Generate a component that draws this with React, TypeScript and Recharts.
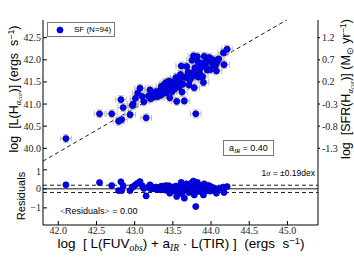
import React from 'react';
import { ScatterChart, Scatter, XAxis, YAxis, ErrorBar, ReferenceLine } from 'recharts';

// ---- data ----
const X_LOG = [
  42.10, 42.54, 42.70, 42.79, 42.82, 42.83, 42.85, 42.94, 42.97, 42.98,
  43.01, 43.04, 43.07, 43.10, 43.12, 43.15, 43.18, 43.20, 43.21, 43.22,
  43.25, 43.26, 43.28, 43.30, 43.31, 43.33, 43.34, 43.35, 43.36, 43.38,
  43.39, 43.40, 43.41, 43.42, 43.43, 43.44, 43.45, 43.46, 43.47, 43.48,
  43.49, 43.50, 43.52, 43.53, 43.54, 43.55, 43.56, 43.58, 43.59, 43.60,
  43.61, 43.62, 43.63, 43.65, 43.66, 43.68, 43.69, 43.70, 43.71, 43.72,
  43.74, 43.75, 43.77, 43.77, 43.78, 43.79, 43.80, 43.81, 43.82, 43.83,
  43.84, 43.85, 43.86, 43.88, 43.89, 43.90, 43.91, 43.93, 43.94, 43.95,
  43.96, 43.98, 43.99, 44.00, 44.02, 44.03, 44.05, 44.06, 44.07, 44.08,
  44.10, 44.16, 44.17, 44.21,
];
const Y_LOG = [
  40.22, 40.78, 40.78, 40.61, 41.10, 40.65, 40.92, 40.76, 40.97, 41.00,
  41.13, 41.25, 41.36, 41.17, 41.05, 40.69, 41.18, 41.32, 41.12, 41.25,
  41.16, 41.22, 41.28, 41.17, 41.22, 41.30, 41.20, 41.40, 41.23, 41.41,
  41.33, 41.47, 41.25, 41.49, 41.32, 41.42, 41.52, 41.14, 41.33, 41.40,
  41.28, 41.50, 41.34, 41.47, 41.60, 41.06, 41.45, 41.38, 41.55, 41.67,
  41.86, 41.27, 41.45, 41.07, 41.60, 41.85, 41.64, 41.72, 41.43, 41.54,
  41.60, 41.99, 41.72, 42.09, 41.37, 41.82, 40.78, 41.63, 42.07, 41.95,
  41.61, 41.70, 41.81, 41.92, 41.62, 41.49, 42.08, 41.85, 41.97, 41.77,
  42.04, 42.05, 41.78, 41.95, 42.00, 41.89, 41.98, 41.88, 41.75, 41.95,
  42.02, 42.16, 41.89, 42.24,
];
const RESID = [
  0.21, 0.33, 0.17, -0.09, 0.37, -0.09, 0.16, -0.09, 0.09, 0.11,
  0.21, 0.30, 0.38, 0.16, 0.02, -0.37, 0.09, 0.21, 0.00, 0.12,
  0.00, 0.05, 0.09, -0.04, 0.00, 0.06, -0.05, 0.14, -0.04, 0.12,
  0.03, 0.16, -0.07, 0.16, -0.02, 0.07, 0.16, -0.23, -0.05, 0.01,
  -0.12, 0.09, -0.09, 0.03, 0.15, -0.40, -0.02, -0.11, 0.05, 0.16,
  0.34, -0.26, -0.09, -0.49, 0.03, 0.26, 0.04, 0.11, -0.19, -0.09,
  -0.05, 0.33, 0.04, 0.41, -0.32, 0.12, -0.93, -0.09, 0.34, 0.21,
  -0.14, -0.06, 0.04, 0.13, -0.18, -0.32, 0.26, 0.01, 0.12, -0.09,
  0.17, 0.16, -0.12, 0.04, 0.07, -0.05, 0.02, -0.09, -0.23, -0.04,
  0.01, 0.09, -0.19, 0.12,
];
const X_ERR = 0.07;
const Y_ERR = 0.09;
const X_TICKS = [42.0, 42.5, 43.0, 43.5, 44.0, 44.5, 45.0];
const Y_TICKS = [40.0, 40.5, 41.0, 41.5, 42.0, 42.5];
const SFR_TICKS = [1.2, 0.7, 0.2, -0.3, -0.8, -1.3];
const RES_TICKS = [-1, 0, 1];
const FIT_X = [41.8, 44.99];
const FIT_Y = [39.71, 42.9];
const SIGMA = 0.19;
const A_IR = '0.40';
const N_GAL = 94;
const MEAN_RES = '0.00';

const X_DOMAIN = [41.8, 45.4];
const Y_DOMAIN = [39.6, 42.9];
const SFR_DOMAIN = [-1.7, 1.6];
const RES_DOMAIN = [-1.9, 1.2];

const mainData = X_LOG.map((x, i) => ({ x, y: Y_LOG[i], ex: X_ERR, ey: Y_ERR }));
const resData = X_LOG.map((x, i) => ({ x, r: RESID[i] }));

const sans = '"Liberation Sans", Arial, sans-serif';
const serif = '"Liberation Serif", "DejaVu Serif", serif';
const tickStyle = { fontFamily: serif, fontSize: 10, fill: '#222' };

const Dot = (p: any) => (
  <circle cx={p.cx} cy={p.cy} r={3.1} fill="#0000ff" stroke="#00007a" strokeWidth={0.6} />
);

const Sub = ({ children, it }: any) => (
  <span style={{ fontSize: '0.7em', position: 'relative', top: '0.3em', fontFamily: it ? serif : undefined, fontStyle: it ? 'italic' : undefined }}>{children}</span>
);
const Sup = ({ children }: any) => (
  <span style={{ fontSize: '0.7em', position: 'relative', top: '-0.45em' }}>{children}</span>
);

const fmt1 = (v: number) => v.toFixed(1);
const fmtRes = (v: number) => (v < 0 ? '\u2212' + Math.abs(v) : String(v));

export default function App() {
  return (
    <div style={{ position: 'absolute', left: 0, top: 0, width: 354, height: 261, background: '#fff', overflow: 'hidden' }}>
      <div style={{ position: 'absolute', left: 0, top: 0 }}>
        <ScatterChart width={354} height={166} margin={{ top: 20, right: 0, bottom: 0, left: 0 }}>
          <XAxis xAxisId="b" dataKey="x" type="number" domain={X_DOMAIN} ticks={X_TICKS} allowDataOverflow height={0} tick={false} tickSize={-4} stroke="#000" />
          <XAxis xAxisId="t" orientation="top" type="number" domain={X_DOMAIN} ticks={X_TICKS} allowDataOverflow height={0} tick={false} tickSize={-4} stroke="#000" />
          <YAxis yAxisId="l" dataKey="y" type="number" domain={Y_DOMAIN} ticks={Y_TICKS} allowDataOverflow width={43} tickSize={-4} tickMargin={6} tick={tickStyle} tickFormatter={fmt1} stroke="#000" />
          <YAxis yAxisId="r" orientation="right" type="number" domain={SFR_DOMAIN} ticks={SFR_TICKS} allowDataOverflow width={36} tickSize={2} tickMargin={2} tick={tickStyle} tickFormatter={fmt1} stroke="#000" />
          <ReferenceLine xAxisId="b" yAxisId="l" segment={[{ x: FIT_X[0], y: FIT_Y[0] }, { x: FIT_X[1], y: FIT_Y[1] }]} stroke="#000" strokeDasharray="4 3" strokeWidth={0.9} />
          <Scatter xAxisId="b" yAxisId="l" data={mainData} dataKey="y" shape={Dot} isAnimationActive={false}>
            <ErrorBar dataKey="ex" direction="x" width={3} stroke="#b0b0b0" strokeWidth={0.8} isAnimationActive={false} />
            <ErrorBar dataKey="ey" direction="y" width={3} stroke="#b0b0b0" strokeWidth={0.8} isAnimationActive={false} />
          </Scatter>
        </ScatterChart>
      </div>
      <div style={{ position: 'absolute', left: 0, top: 166 }}>
        <ScatterChart width={354} height={95} margin={{ top: 0, right: 0, bottom: 0, left: 0 }}>
          <XAxis xAxisId="b" dataKey="x" type="number" domain={X_DOMAIN} ticks={X_TICKS} allowDataOverflow height={36} tickSize={-4} tickMargin={6} tick={tickStyle} tickFormatter={fmt1} stroke="#000" />
          <XAxis xAxisId="t" orientation="top" type="number" domain={X_DOMAIN} ticks={X_TICKS} allowDataOverflow height={0} tick={false} tickSize={-4} stroke="#000" />
          <YAxis yAxisId="l" dataKey="r" type="number" domain={RES_DOMAIN} ticks={RES_TICKS} allowDataOverflow width={43} tickSize={-4} tickMargin={6} tick={tickStyle} tickFormatter={fmtRes} stroke="#000" />
          <YAxis yAxisId="r" orientation="right" type="number" domain={RES_DOMAIN} ticks={RES_TICKS} allowDataOverflow width={36} tick={false} tickSize={-4} stroke="#000" />
          <ReferenceLine xAxisId="b" yAxisId="l" y={0} stroke="#000" strokeWidth={0.9} />
          <ReferenceLine xAxisId="b" yAxisId="l" y={SIGMA} stroke="#000" strokeDasharray="4 3" strokeWidth={0.9} />
          <ReferenceLine xAxisId="b" yAxisId="l" y={-SIGMA} stroke="#000" strokeDasharray="4 3" strokeWidth={0.9} />
          <Scatter xAxisId="b" yAxisId="l" data={resData} dataKey="r" shape={Dot} isAnimationActive={false} />
        </ScatterChart>
      </div>

      {/* legend */}
      <div style={{ position: 'absolute', left: 47, top: 22, width: 68, height: 15, boxSizing: 'border-box', border: '1px solid #777', background: '#fff' }}>
        <svg width={10} height={10} style={{ position: 'absolute', left: 7, top: 2 }}>
          <circle cx={5} cy={5} r={3.1} fill="#0000ff" stroke="#00007a" strokeWidth={0.6} />
        </svg>
        <div style={{ position: 'absolute', left: 26, top: 1, fontFamily: sans, fontSize: 8, lineHeight: '11px', whiteSpace: 'pre', color: '#000' }}>{`SF (N=${N_GAL})`}</div>
      </div>

      {/* a_IR box */}
      <div style={{ position: 'absolute', left: 223, top: 140, width: 51, height: 16, boxSizing: 'border-box', border: '1px solid #777', background: '#fff', fontFamily: sans, fontSize: 9, lineHeight: '14px', textAlign: 'center', whiteSpace: 'pre' }}>
        a<Sub it>IR</Sub> = {A_IR}
      </div>

      {/* residual annotations */}
      <div style={{ position: 'absolute', left: 233, top: 168, width: 82, textAlign: 'right', fontFamily: sans, fontSize: 8.5, lineHeight: '11px', whiteSpace: 'pre' }}>
        1<span style={{ fontFamily: serif, fontStyle: 'italic' }}>σ</span> = ±{SIGMA.toFixed(2)}dex
      </div>
      <div style={{ position: 'absolute', left: 60, top: 205, fontFamily: sans, fontSize: 9, lineHeight: '12px', whiteSpace: 'pre' }}>
        <span style={{ fontFamily: serif }}>&lt;</span>Residuals<span style={{ fontFamily: serif }}>&gt;</span> = {MEAN_RES}
      </div>

      {/* axis titles */}
      <div style={{ position: 'absolute', left: 14 - 90, top: 89 - 8, width: 180, height: 16, textAlign: 'center', transform: 'rotate(-90deg)', fontFamily: sans, fontSize: 12.5, lineHeight: '16px', whiteSpace: 'pre' }}>
        log  [L(H<Sub it>α<Sub it>cor</Sub></Sub>)] (ergs  s<Sup>−1</Sup>)
      </div>
      <div style={{ position: 'absolute', left: 346 - 90, top: 89 - 8, width: 180, height: 16, textAlign: 'center', transform: 'rotate(-90deg)', fontFamily: sans, fontSize: 12.5, lineHeight: '16px', whiteSpace: 'pre' }}>
        log  [SFR(H<Sub it>α<Sub it>cor</Sub></Sub>)] (M<Sub>⊙</Sub> yr<Sup>−1</Sup>)
      </div>
      <div style={{ position: 'absolute', left: 21 - 40, top: 196 - 7, width: 80, height: 14, textAlign: 'center', transform: 'rotate(-90deg)', fontFamily: sans, fontSize: 11, lineHeight: '14px', whiteSpace: 'pre' }}>
        Residuals
      </div>
      <div style={{ position: 'absolute', left: 181 - 160, top: 244 - 9, width: 320, height: 18, textAlign: 'center', fontFamily: sans, fontSize: 13.5, lineHeight: '18px', whiteSpace: 'pre' }}>
        log  [ L(FUV<Sub it>obs</Sub>) + a<Sub it>IR</Sub> · L(TIR) ]  (ergs  s<Sup>−1</Sup>)
      </div>
    </div>
  );
}
